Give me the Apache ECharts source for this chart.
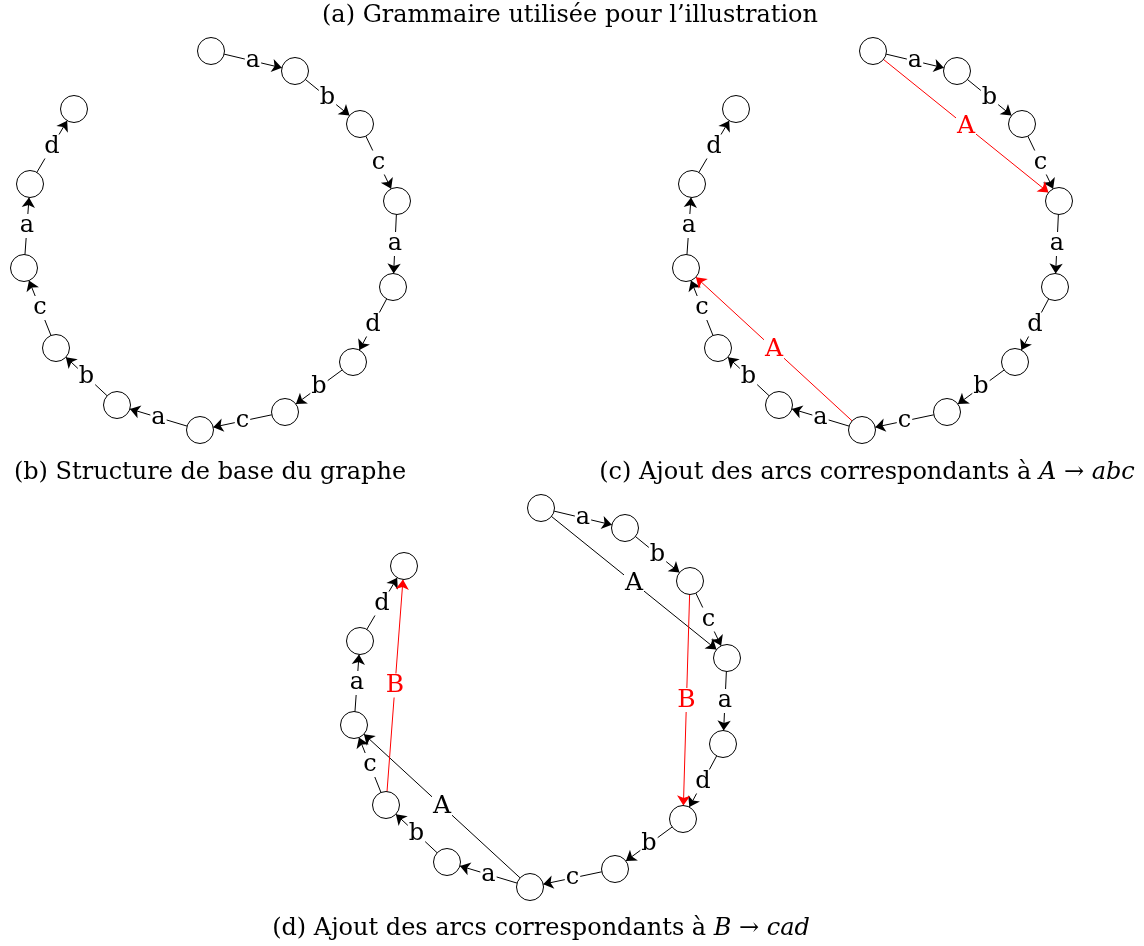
<!DOCTYPE html>
<html>
<head>
<meta charset="utf-8">
<script src="https://cdn.jsdelivr.net/npm/echarts@6/dist/echarts.min.js"></script>
<style>
  html, body { margin: 0; padding: 0; background: #fff; }
  #main { width: 1144px; height: 946px; }
</style>
</head>
<body>
<div id="main"></div>
<script>
// positions des 13 sommets du graphe de base (panneau b)
var nodeX = [211, 295, 360, 397, 393, 353, 285, 200, 117, 56, 24, 30, 74];
var nodeY = [51, 71, 124, 201, 287, 362, 412, 430, 405, 348, 268, 184, 109];
// étiquettes des arcs i -> i+1
var letters = ['a', 'b', 'c', 'a', 'd', 'b', 'c', 'a', 'b', 'c', 'a', 'd'];

// arcs ajoutés : [source, cible, étiquette, couleur]
var arcsC = [[0, 3, 'A', 'red'], [7, 10, 'A', 'red']];
var arcsD = [[0, 3, 'A', '#000'], [7, 10, 'A', '#000'], [2, 5, 'B', 'red'], [9, 12, 'B', 'red']];

var FONT = '"DejaVu Serif", "Liberation Serif", serif';

var myChart = echarts.init(document.getElementById('main'));

function buildPanel(dx, dy, extra) {
    var nodes = [];
    for (var i = 0; i < nodeX.length; i++) {
        nodes.push({ name: 'n' + i, value: [nodeX[i] + dx, nodeY[i] + dy] });
    }
    var links = [];
    var labels = [];
    for (var k = 0; k < letters.length; k++) {
        links.push({ source: k, target: k + 1 });
        labels.push({
            value: [(nodes[k].value[0] + nodes[k + 1].value[0]) / 2, (nodes[k].value[1] + nodes[k + 1].value[1]) / 2],
            label: { formatter: letters[k], color: '#000' }
        });
    }
    extra.forEach(function (e) {
        links.push({ source: e[0], target: e[1], lineStyle: { color: e[3] } });
        labels.push({
            value: [(nodes[e[0]].value[0] + nodes[e[1]].value[0]) / 2, (nodes[e[0]].value[1] + nodes[e[1]].value[1]) / 2],
            label: { formatter: e[2], color: e[3], fontSize: 25 }
        });
    });
    return [{
        type: 'graph',
        coordinateSystem: 'cartesian2d',
        symbol: 'circle',
        symbolSize: 27,
        edgeSymbol: ['none', 'arrow'],
        edgeSymbolSize: 10,
        itemStyle: { color: '#fff', borderColor: '#000', borderWidth: 1 },
        lineStyle: { color: '#000', width: 1, opacity: 1, curveness: 0 },
        label: { show: false },
        emphasis: { disabled: true },
        data: nodes,
        links: links,
        z: 3
    }, {
        type: 'scatter',
        symbolSize: 0,
        silent: true,
        z: 4,
        itemStyle: { opacity: 1 },
        label: {
            show: true,
            position: 'inside',
            fontFamily: FONT,
            fontSize: 24,
            lineHeight: 24,
            opacity: 1,
            backgroundColor: '#fff',
            padding: [0, 1]
        },
        data: labels
    }];
}

var series = [].concat(
    buildPanel(0, 0, []),
    buildPanel(662, 0, arcsC),
    buildPanel(330, 457, arcsD)
);

function caption(x, y, text) {
    return {
        type: 'text',
        x: x,
        y: y,
        style: {
            text: text,
            fill: '#000',
            font: '24px ' + FONT,
            textAlign: 'center',
            textVerticalAlign: 'middle',
            rich: {
                i: { fontStyle: 'italic', fontFamily: FONT, fontSize: 24 }
            }
        }
    };
}

var option = {
    animation: false,
    grid: { left: 0, right: 0, top: 0, bottom: 0 },
    xAxis: { type: 'value', min: 0, max: 1144, show: false },
    yAxis: { type: 'value', min: 0, max: 946, inverse: true, show: false },
    graphic: [
        caption(570, 16, '(a) Grammaire utilisée pour l\u2019illustration'),
        caption(210, 473, '(b) Structure de base du graphe'),
        caption(867, 473, '(c) Ajout des arcs correspondants à {i|A} \u2192 {i|abc}'),
        caption(541, 929, '(d) Ajout des arcs correspondants à {i|B} \u2192 {i|cad}')
    ],
    series: series
};
myChart.setOption(option);
window.addEventListener('resize', function () {
    myChart.resize();
});
</script>
</body>
</html>
